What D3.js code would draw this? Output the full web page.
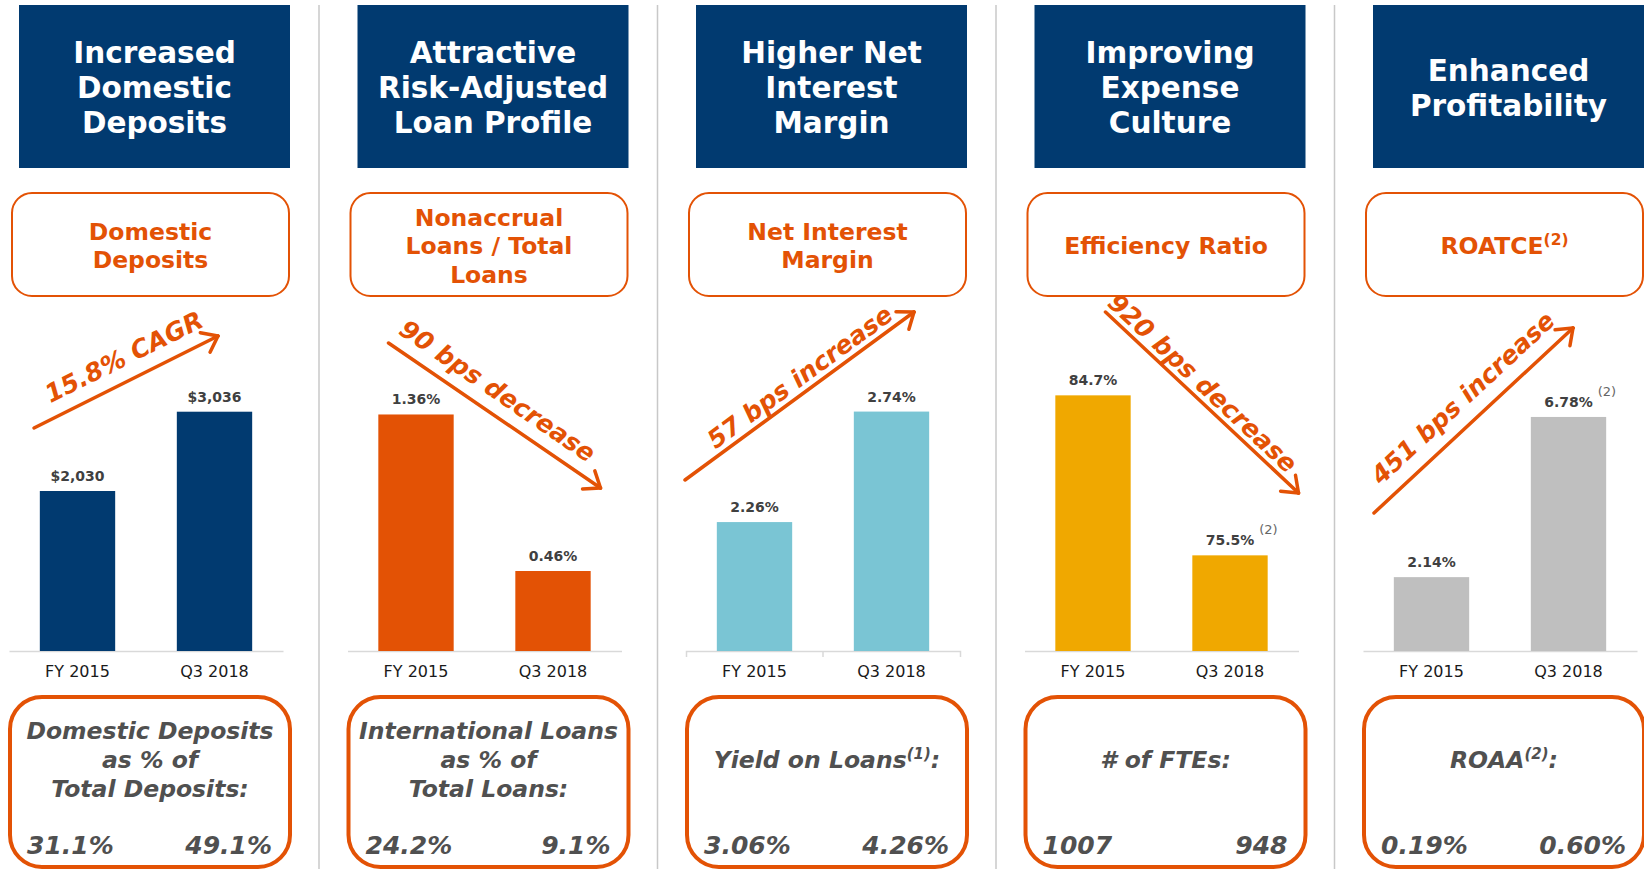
<!DOCTYPE html>
<html>
<head>
<meta charset="utf-8">
<script src="https://cdn.jsdelivr.net/npm/d3@7"></script>
<style>
  html, body { margin: 0; padding: 0; background: #ffffff; }
  svg { display: block; }
  text { font-family: "DejaVu Sans", Verdana, sans-serif; }
</style>
</head>
<body>
<svg id="chart" width="1644" height="869"></svg>
<script>
// ---------------- DATA ----------------
const categories = ["FY 2015", "Q3 2018"];

const depositValues    = [2030, 3036];
const nonaccrualValues = [1.36, 0.46];
const nimValues        = [2.26, 2.74];
const efficiencyValues = [84.7, 75.5];
const roatceValues     = [2.14, 6.78];

const headerTitles = [
  ["Increased", "Domestic", "Deposits"],
  ["Attractive", "Risk-Adjusted", "Loan Profile"],
  ["Higher Net", "Interest", "Margin"],
  ["Improving", "Expense", "Culture"],
  ["Enhanced", "Profitability"]
];

const metricTitles = [
  ["Domestic", "Deposits"],
  ["Nonaccrual", "Loans / Total", "Loans"],
  ["Net Interest", "Margin"],
  ["Efficiency Ratio"],
  ["ROATCE^(2)"]
];

const trendLabels = ["15.8% CAGR", "90 bps decrease", "57 bps increase", "920 bps decrease", "451 bps increase"];

const valueNotes = [[null, null], [null, null], [null, null], [null, "(2)"], [null, "(2)"]];

const footerTitles = [
  ["Domestic Deposits", "as % of", "Total Deposits:"],
  ["International Loans", "as % of", "Total Loans:"],
  ["Yield on Loans^(1)^:"],
  ["# of FTEs:"],
  ["ROAA^(2)^:"]
];

const footerFY2015 = ["31.1%", "24.2%", "3.06%", "1007", "0.19%"];
const footerQ32018 = ["49.1%", "9.1%", "4.26%", "948", "0.60%"];

// ---------------- PANEL SETUP ----------------
const panels = [
  { values: depositValues,    domain: [0, 4060], fmt: v => "$" + d3.format(",")(v), color: "#013A70", ticks: false },
  { values: nonaccrualValues, domain: [0, 1.84], fmt: v => d3.format(".2f")(v) + "%", color: "#E35205", ticks: false },
  { values: nimValues,        domain: [1.7, 3.09], fmt: v => d3.format(".2f")(v) + "%", color: "#7AC5D4", ticks: true },
  { values: efficiencyValues, domain: [70, 88.4], fmt: v => d3.format(".1f")(v) + "%", color: "#F0A800", ticks: false },
  { values: roatceValues,     domain: [0, 9.27], fmt: v => d3.format(".2f")(v) + "%", color: "#BFBFBF", ticks: false }
];

// annotation arrows (panel-local layout)
const arrowLayout = [
  { x1: 15,  y1: 428, x2: 199,   y2: 336, tx: 105,   ty: 357 },
  { x1: 31,  y1: 343, x2: 243,   y2: 488, tx: 140,   ty: 391 },
  { x1: -11, y1: 480, x2: 218,   y2: 312, tx: 104,   ty: 377 },
  { x1: 71,  y1: 312, x2: 264,   y2: 493, tx: 168,   ty: 383 },
  { x1: 1,   y1: 513, x2: 200,   y2: 328, tx: 90,    ty: 398 }
];

const NAVY = "#013A70", ORANGE = "#E35205", DARK = "#404040", GREYTXT = "#505050";
const svg = d3.select("#chart");
const panelX0 = 19, panelStep = 338.5, boxW = 271;
const baseY = 651, chartH = 320;

// dividers
for (let i = 0; i < 4; i++) {
  const x = 319 + panelStep * i;
  svg.append("line").attr("x1", x).attr("x2", x).attr("y1", 5).attr("y2", 869)
    .attr("stroke", "#c8c8c8").attr("stroke-width", 1.5);
}

function richText(sel, str, supSize, supShift) {
  const parts = str.split("^");
  parts.forEach((p, i) => {
    if (p === "") return;
    const t = sel.append("tspan").text(p);
    if (i % 2 === 1) {
      t.attr("font-size", supSize).attr("dy", -supShift);
    } else if (i > 0) {
      t.attr("dy", supShift);
    }
  });
}

panels.forEach((p, i) => {
  const L = panelX0 + panelStep * i;
  const g = svg.append("g").attr("transform", `translate(${L},0)`);

  // header navy box
  g.append("rect").attr("x", 0).attr("y", 5).attr("width", boxW).attr("height", 163).attr("fill", NAVY);
  const ht = headerTitles[i];
  ht.forEach((line, k) => {
    g.append("text").attr("x", boxW / 2).attr("y", 98 + (k - (ht.length - 1) / 2) * 35)
      .attr("text-anchor", "middle").attr("fill", "#ffffff")
      .attr("font-size", 29.5).attr("font-weight", "bold").text(line);
  });

  // metric orange-outline box
  g.append("rect").attr("x", -7).attr("y", 193).attr("width", 277).attr("height", 103)
    .attr("rx", 20).attr("fill", "#fff").attr("stroke", ORANGE).attr("stroke-width", 2);
  const mt = metricTitles[i];
  mt.forEach((line, k) => {
    const t = g.append("text").attr("x", 131.5).attr("y", 254 + (k - (mt.length - 1) / 2) * 28.5)
      .attr("text-anchor", "middle").attr("fill", ORANGE)
      .attr("font-size", 23.5).attr("font-weight", "bold");
    richText(t, line, 15.5, 9);
  });

  // chart
  const x = d3.scaleBand().domain(categories).range([-10, 264]).paddingInner(0.45).paddingOuter(0.225);
  const y = d3.scaleLinear().domain(p.domain).range([baseY, baseY - chartH]);

  const axis = d3.axisBottom(x).tickSize(0).tickSizeOuter(p.ticks ? 6 : 0).tickPadding(0);
  const ax = g.append("g").attr("transform", `translate(0,${baseY})`).call(axis);
  ax.select(".domain").attr("stroke", "#d9d9d9").attr("stroke-width", 1.5);
  ax.selectAll(".tick text").attr("dy", null).attr("y", 26)
    .attr("font-size", 16).attr("fill", "#1a1a1a").attr("font-family", "DejaVu Sans, sans-serif");
  if (p.ticks) {
    const mid = (x(categories[0]) + x.bandwidth() + x(categories[1])) / 2;
    ax.append("line").attr("x1", mid).attr("x2", mid).attr("y1", 0).attr("y2", 6)
      .attr("stroke", "#d9d9d9").attr("stroke-width", 1.5);
  }

  const data = categories.map((c, k) => ({ c, v: p.values[k], note: valueNotes[i][k] }));
  g.selectAll("rect.bar").data(data).join("rect").attr("class", "bar")
    .attr("x", d => x(d.c)).attr("width", x.bandwidth())
    .attr("y", d => y(d.v)).attr("height", d => baseY - y(d.v))
    .attr("fill", p.color);

  data.forEach(d => {
    const cx = x(d.c) + x.bandwidth() / 2;
    const lbl = g.append("text").attr("x", cx).attr("y", y(d.v) - 10)
      .attr("text-anchor", "middle").attr("fill", DARK)
      .attr("font-size", 14).attr("font-weight", "bold").text(p.fmt(d.v));
    if (d.note) {
      const w = lbl.node().getComputedTextLength();
      g.append("text").attr("x", cx + w / 2 + 5).attr("y", y(d.v) - 21)
        .attr("fill", "#666").attr("font-size", 13).text(d.note);
    }
  });

  // trend arrow
  const a = arrowLayout[i];
  const ang = Math.atan2(a.y2 - a.y1, a.x2 - a.x1);
  g.append("line").attr("x1", a.x1).attr("y1", a.y1).attr("x2", a.x2).attr("y2", a.y2)
    .attr("stroke", ORANGE).attr("stroke-width", 3.5).attr("stroke-linecap", "round");
  const headLen = 18, spread = 0.65;
  [ang + Math.PI - spread, ang + Math.PI + spread].forEach(t => {
    g.append("line").attr("x1", a.x2).attr("y1", a.y2)
      .attr("x2", a.x2 + headLen * Math.cos(t)).attr("y2", a.y2 + headLen * Math.sin(t))
      .attr("stroke", ORANGE).attr("stroke-width", 3.5).attr("stroke-linecap", "round");
  });
  g.append("text").attr("transform", `translate(${a.tx},${a.ty}) rotate(${ang * 180 / Math.PI})`)
    .attr("text-anchor", "middle").attr("dominant-baseline", "central")
    .attr("fill", ORANGE).attr("font-size", 25).attr("font-weight", "bold").attr("font-style", "italic")
    .text(trendLabels[i]);

  // footer box
  g.append("rect").attr("x", -9).attr("y", 697).attr("width", 280).attr("height", 170)
    .attr("rx", 32).attr("fill", "#fff").attr("stroke", ORANGE).attr("stroke-width", 4);
  const ft = footerTitles[i];
  ft.forEach((line, k) => {
    const t = g.append("text").attr("x", 131).attr("y", 768 + (k - (ft.length - 1) / 2) * 29)
      .attr("text-anchor", "middle").attr("fill", GREYTXT)
      .attr("font-size", 23.5).attr("font-weight", "bold").attr("font-style", "italic");
    richText(t, line, 15, 9);
  });
  g.append("text").attr("x", 8).attr("y", 854).attr("text-anchor", "start")
    .attr("fill", GREYTXT).attr("font-size", 25).attr("font-weight", "bold").attr("font-style", "italic")
    .text(footerFY2015[i]);
  g.append("text").attr("x", 253).attr("y", 854).attr("text-anchor", "end")
    .attr("fill", GREYTXT).attr("font-size", 25).attr("font-weight", "bold").attr("font-style", "italic")
    .text(footerQ32018[i]);
});
</script>
</body>
</html>
